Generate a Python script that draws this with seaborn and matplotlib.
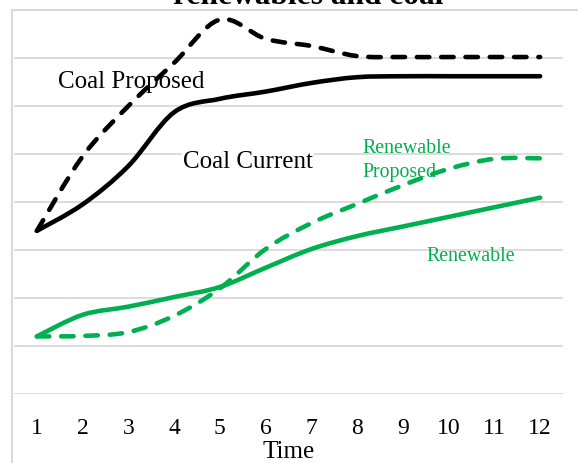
import numpy as np
import pandas as pd
import matplotlib
matplotlib.use("Agg")
import matplotlib.pyplot as plt
from matplotlib.path import Path
from matplotlib.patches import PathPatch
from matplotlib.lines import Line2D
import seaborn as sns

# ---- data ----
time = [1, 2, 3, 4, 5, 6, 7, 8, 9, 10, 11, 12]
coal_current = [3.40, 3.95, 4.75, 5.87, 6.15, 6.30, 6.48, 6.60, 6.62, 6.62, 6.62, 6.62]
coal_proposed = [3.40, 4.95, 6.00, 6.90, 7.80, 7.40, 7.25, 7.04, 7.02, 7.02, 7.02, 7.02]
renewable = [1.20, 1.65, 1.82, 2.02, 2.23, 2.63, 3.02, 3.29, 3.49, 3.69, 3.89, 4.09]
renewable_proposed = [1.20, 1.21, 1.29, 1.63, 2.20, 3.02, 3.56, 3.96, 4.35, 4.69, 4.90, 4.91]
title = "renewables and coal"
xlabel = "Time"

BLACK = "#000000"
GREEN = "#00B050"
GRID = "#d9d9d9"

sns.set_theme(style="white")
plt.rcParams["font.family"] = ["Liberation Serif", "DejaVu Serif"]

W, H = 578, 464
fig = plt.figure(figsize=(W / 100, H / 100), dpi=100)
ax = fig.add_axes([14 / W, 1 - 395 / H, (563 - 14) / W, (395 - 11) / H])

series = [
    ("Coal Current", coal_current, BLACK, False),
    ("Coal Proposed", coal_proposed, BLACK, True),
    ("Renewable", renewable, GREEN, False),
    ("Renewable Proposed", renewable_proposed, GREEN, True),
]

LW = 3.3
DASH = (0, (2.7, 2.6))


def smooth_path(xs, ys):
    pts = np.column_stack([xs, ys]).astype(float)
    n = len(pts)
    verts = [pts[0]]
    codes = [Path.MOVETO]
    for i in range(n - 1):
        p0 = pts[max(i - 1, 0)]
        p1 = pts[i]
        p2 = pts[i + 1]
        p3 = pts[min(i + 2, n - 1)]
        c1 = p1 + (p2 - p0) / 6.0
        c2 = p2 - (p3 - p1) / 6.0
        verts += [c1, c2, p2]
        codes += [Path.CURVE4] * 3
    return Path(np.array(verts), codes)


for name, vals, color, dashed in series:
    df = pd.DataFrame({"Time": time, "Value": vals})
    n_before = len(ax.lines)
    sns.lineplot(data=df, x="Time", y="Value", ax=ax, color=color, lw=LW,
                 legend=False)
    line = ax.lines[n_before]
    xd, yd = line.get_xdata(), line.get_ydata()
    line.set_visible(False)
    patch = PathPatch(smooth_path(xd, yd), fill=False, edgecolor=color,
                      lw=LW, zorder=3, capstyle="round", joinstyle="round",
                      linestyle=DASH if dashed else "-")
    ax.add_patch(patch)

ax.set_xlim(0.5, 12.5)
ax.set_ylim(0, 8)
ax.set_xticks(time)
ax.set_xticklabels([str(t) for t in time])
ax.set_yticks([0, 1, 2, 3, 4, 5, 6, 7])
ax.set_yticklabels([])
ax.tick_params(axis="x", length=0, pad=16.5, labelsize=17, colors=BLACK)
ax.tick_params(axis="y", length=0)
ax.grid(axis="y", color=GRID, lw=1.3, zorder=0)
ax.grid(axis="x", visible=False)
ax.set_axisbelow(True)
for s in ax.spines.values():
    s.set_visible(False)
ax.set_facecolor("none")

ax.set_xlabel(xlabel, fontsize=18, color=BLACK)
ax.xaxis.label.set_va("baseline")
ax.xaxis.set_label_coords(0.5, (395 - 458) / 384)
ax.set_ylabel("")

# chart border lines (left and top)
fig.add_artist(Line2D([12.5 / W, 12.5 / W], [0, 1 - 11 / H], transform=fig.transFigure,
                      color=GRID, lw=1.5))
fig.add_artist(Line2D([12.5 / W, 1], [1 - 11 / H, 1 - 11 / H], transform=fig.transFigure,
                      color=GRID, lw=1.5))

# title (partly cut by the top edge, as in the reference)
fig.text(308 / W, 1 - 4 / H, title, ha="center", va="baseline", fontsize=22.6,
         fontweight="bold", color=BLACK)


def px(xp, yp):
    return (xp / W, 1 - yp / H)


def label(xp, yp, s, size, color, fill=False):
    kw = {}
    if fill:
        kw["bbox"] = dict(facecolor="white", edgecolor="none", pad=0.5)
    ax.text(*px(xp, yp), s, transform=fig.transFigure, fontsize=size, color=color,
            va="baseline", ha="left", zorder=2, **kw)


label(58, 88, "Coal Proposed", 18, BLACK)
label(183, 168, "Coal Current", 18, BLACK, fill=True)
label(362, 153, "Renewable", 14.3, GREEN)
label(362, 177, "Proposed", 14.3, GREEN)
label(426, 261, "Renewable", 14.3, GREEN)

fig.savefig("out.png", dpi=100)
